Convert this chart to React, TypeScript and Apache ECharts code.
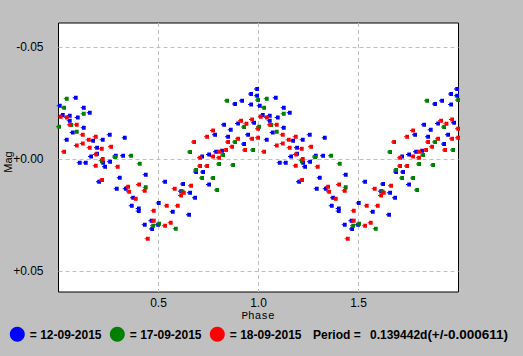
import React, { useEffect, useRef } from "react";
import * as echarts from "echarts";

const seriesNames = ["12-09-2015", "17-09-2015", "18-09-2015"];
const seriesColors = ["#0000ff", "#008000", "#ff0000"];

const bluePhase = [0.0035, 0.0185, 0.0385, 0.0535, 0.0535, 0.0685, 0.0835, 0.0935, 0.1035, 0.1235, 0.1235, 0.1335, 0.1535, 0.16, 0.17, 0.19, 0.19, 0.2, 0.2185, 0.22, 0.23, 0.2535, 0.255, 0.2835, 0.2885, 0.3035, 0.32, 0.3285, 0.3335, 0.3635, 0.37, 0.3985, 0.3985, 0.4285, 0.4335, 0.462, 0.465, 0.495, 0.4985, 0.53, 0.5685, 0.61, 0.62, 0.65, 0.655, 0.68, 0.685, 0.715, 0.72, 0.75, 0.75, 0.78, 0.785, 0.815, 0.825, 0.845, 0.8585, 0.88, 0.895, 0.915, 0.925, 0.945, 0.96, 0.96, 0.975, 0.99, 0.99];
const blueMag = [-0.0239, -0.0198, -0.0087, -0.0194, -0.0172, -0.0119, -0.0275, -0.0186, 0.0015, -0.023, -0.0141, 0.0015, -0.0208, -0.0012, -0.0083, -0.0052, -0.0025, 0.01, -0.0087, 0.0015, 0.0033, -0.011, 0.0011, -0.0016, 0.0131, 0.0082, -0.0016, -0.0096, 0.0131, 0.0207, 0.0171, 0.022, 0.0231, 0.0292, 0.0069, 0.0274, 0.0311, 0.0292, 0.0195, 0.01, 0.0234, 0.0143, 0.011, 0.0247, 0.0149, 0.0171, 0.0057, -0.0012, 0.0057, -0.0021, 0.0113, -0.011, -0.0034, -0.0038, -0.0154, -0.0101, -0.0132, -0.0247, -0.016, -0.0261, -0.0068, -0.011, -0.0291, -0.0244, -0.0163, -0.0314, -0.0284];

const greenPhase = [0.0, 0.025, 0.0385, 0.061, 0.0885, 0.1235, 0.2135, 0.28, 0.36, 0.4035, 0.4335, 0.47, 0.5, 0.5835, 0.617, 0.655, 0.685, 0.715, 0.77, 0.79, 0.8, 0.82, 0.84, 0.87, 0.88, 0.925, 0.97, 0.995];
const greenMag = [-0.0145, -0.023, -0.027, -0.0153, -0.0123, -0.0203, 0.0006, -0.001, -0.0016, 0.002, 0.0125, 0.0296, 0.0287, 0.031, 0.0144, -0.0033, 0.0048, 0.0083, 0.0083, 0.0137, 0.0021, -0.0019, -0.0261, 0.0025, -0.0077, -0.0144, -0.0041, -0.0264];

const redPhase = [0.0085, 0.025, 0.0385, 0.055, 0.0885, 0.0885, 0.1185, 0.1185, 0.1485, 0.1535, 0.1835, 0.185, 0.1835, 0.2135, 0.2185, 0.215, 0.26, 0.2935, 0.345, 0.35, 0.3835, 0.4, 0.4285, 0.4435, 0.4735, 0.4735, 0.53, 0.5385, 0.5585, 0.5785, 0.5935, 0.6235, 0.61, 0.66, 0.675, 0.705, 0.705, 0.74, 0.74, 0.77, 0.77, 0.8, 0.8, 0.835, 0.845, 0.865, 0.895, 0.91, 0.93, 0.937, 0.965, 0.965, 0.995, 0.995];
const redMag = [-0.019, -0.0034, -0.0186, -0.0154, -0.0154, -0.0061, -0.011, -0.007, -0.0087, -0.0052, -0.0101, -0.0021, 0.0029, -0.0047, -0.0001, 0.0092, -0.0056, 0.0033, 0.0122, 0.0145, 0.0176, 0.0113, 0.014, 0.0355, 0.0229, 0.0274, 0.0296, 0.0207, 0.0283, 0.0131, 0.0207, 0.0149, 0.0162, 0.0118, -0.0077, -0.0007, 0.003, -0.0101, 0.003, -0.0128, -0.0012, -0.0034, -0.0007, -0.0041, -0.0077, -0.0056, -0.0092, -0.0172, -0.0041, -0.0159, -0.0177, -0.0092, -0.0136, -0.0096];

const xTicks = [0.5, 1.0, 1.5];
const yTicks = [-0.05, 0, 0.05];
const xName = "Phase";
const yName = "Mag";
const periodLabel = "Period =";
const periodValue = "0.139442d";
const periodError = "(+/-0.000611)";

const phases = [bluePhase, greenPhase, redPhase];
const mags = [blueMag, greenMag, redMag];

const MARK = "path://M1,0L4,0L4,4L1,4L1,2.5L0,2.5L0,1.5L1,1.5Z";
const SANS = '"Liberation Sans", Arial, sans-serif';

function buildData(p: number[], m: number[]) {
  const out: number[][] = [];
  for (let i = 0; i < p.length; i++) out.push([p[i], m[i]]);
  for (let i = 0; i < p.length; i++) out.push([p[i] + 1, m[i]]);
  return out;
}

export default function App() {
  const ref = useRef<HTMLDivElement>(null);
  useEffect(() => {
    if (!ref.current) return;
    const chart = echarts.init(ref.current, undefined, { renderer: "svg" });
    const legendX = [17.3, 117.3, 217.3];
    const graphic: any[] = [
      {
        type: "text", x: 8, y: 162, rotation: Math.PI / 2,
        style: { text: yName, font: "11px " + SANS, fill: "#000", align: "center", verticalAlign: "middle" },
      },
      {
        type: "text", x: 258, y: 316,
        style: { text: xName, font: '11px "Liberation Mono", "DejaVu Sans Mono", monospace', fill: "#000", align: "center", verticalAlign: "middle" },
      },
    ];
    seriesNames.forEach((n, i) => {
      graphic.push({ type: "circle", shape: { cx: legendX[i], cy: 334.3, r: 7.5 }, style: { fill: seriesColors[i] } });
      graphic.push({
        type: "text", x: legendX[i] + 12.5, y: 334.8,
        style: { text: "= " + n, font: "bold 12px " + SANS, fill: "#000", align: "left", verticalAlign: "middle" },
      });
    });
    graphic.push({ type: "text", x: 313, y: 334.8, style: { text: periodLabel, font: "bold 12px " + SANS, fill: "#000", align: "left", verticalAlign: "middle" } });
    graphic.push({
      type: "text", x: 370, y: 334.8,
      style: {
        text: "{a|" + periodValue + "}{b|" + periodError + "}",
        fill: "#000", align: "left", verticalAlign: "middle",
        rich: {
          a: { fontSize: 12, fontWeight: "bold", fontFamily: SANS, fill: "#000" },
          b: { fontSize: 13.5, fontWeight: "bold", fontFamily: SANS, fill: "#000" },
        },
      },
    });

    chart.setOption({
      animation: false,
      backgroundColor: "#c0c0c0",
      grid: {
        left: 58.5, right: 64.5, top: 23, bottom: 64,
        show: true, backgroundColor: "#ffffff", borderColor: "#000000", borderWidth: 1,
      },
      xAxis: {
        type: "value", min: 0, max: 2,
        axisLine: { show: false }, axisTick: { show: false, customValues: xTicks },
        axisLabel: {
          customValues: xTicks, formatter: (v: number) => v.toFixed(1),
          color: "#000", fontSize: 12, fontFamily: SANS, margin: 5,
        },
        splitLine: { show: true, lineStyle: { color: "#c0c0c0", type: [4, 3], width: 1 } },
      },
      yAxis: {
        type: "value", min: -0.0608, max: 0.0592, inverse: true,
        axisLine: { show: false }, axisTick: { show: false, customValues: yTicks },
        axisLabel: {
          customValues: yTicks,
          formatter: (v: number) => (v < -1e-9 ? "-" : "+") + Math.abs(v).toFixed(2),
          color: "#000", fontSize: 12, fontFamily: SANS, margin: 15,
        },
        splitLine: { show: true, lineStyle: { color: "#c0c0c0", type: [4, 3], width: 1 } },
      },
      graphic,
      series: seriesNames.map((n, i) => ({
        name: n, type: "scatter", symbol: MARK, symbolSize: [5, 4],
        itemStyle: { color: seriesColors[i], opacity: 1 },
        data: buildData(phases[i], mags[i]),
        clip: true,
        emphasis: { disabled: true },
      })),
    });
    return () => chart.dispose();
  }, []);
  return <div ref={ref} style={{ position: "fixed", left: 0, top: 0, width: 523, height: 356 }} />;
}
